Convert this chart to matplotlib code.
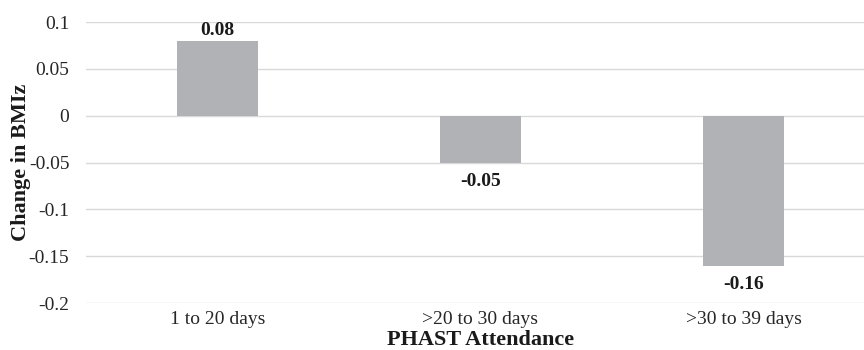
import matplotlib
matplotlib.use("Agg")
import matplotlib.pyplot as plt

categories = ["1 to 20 days", ">20 to 30 days", ">30 to 39 days"]
values = [0.08, -0.05, -0.16]
value_labels = ["0.08", "-0.05", "-0.16"]
y_ticks = [0.1, 0.05, 0, -0.05, -0.1, -0.15, -0.2]
y_tick_labels = ["0.1", "0.05", "0", "-0.05", "-0.1", "-0.15", "-0.2"]

plt.rcParams["font.family"] = ["Liberation Serif", "DejaVu Serif"]

fig = plt.figure(figsize=(8.64, 3.5), dpi=100)
ax = fig.add_axes([86 / 864, 1 - 303 / 350, (875 - 86) / 864, (303 - 22) / 350])

x = list(range(len(categories)))
ax.bar(x, values, width=0.31, color="#b1b2b5", zorder=3)

for xi, v, lab in zip(x, values, value_labels):
    if v >= 0:
        ax.text(xi, v + 0.002, lab, ha="center", va="bottom",
                fontsize=14, fontweight="bold", color="#1a1a1a")
    else:
        ax.text(xi, v - 0.011, lab, ha="center", va="top",
                fontsize=14, fontweight="bold", color="#1a1a1a")

ax.set_xlim(-0.5, 2.5)
ax.set_ylim(-0.2, 0.1)
ax.set_yticks(y_ticks)
ax.set_yticklabels(y_tick_labels)
ax.set_xticks(x)
ax.set_xticklabels(categories)
ax.tick_params(axis="both", length=0, labelsize=14, colors="#262626")
ax.tick_params(axis="y", pad=12)
ax.tick_params(axis="x", pad=6)
ax.yaxis.grid(True, color="#d9d9d9", linewidth=1, zorder=0)
for s in ax.spines.values():
    s.set_visible(False)

ax.set_xlabel("PHAST Attendance", fontsize=16, fontweight="bold", color="#1a1a1a", labelpad=1)
fig.text(21 / 864, 1 - 162 / 350, "Change in BMIz", rotation=90, ha="center", va="center",
         fontsize=16, fontweight="bold", color="#1a1a1a")

fig.savefig("out.png", dpi=100)
